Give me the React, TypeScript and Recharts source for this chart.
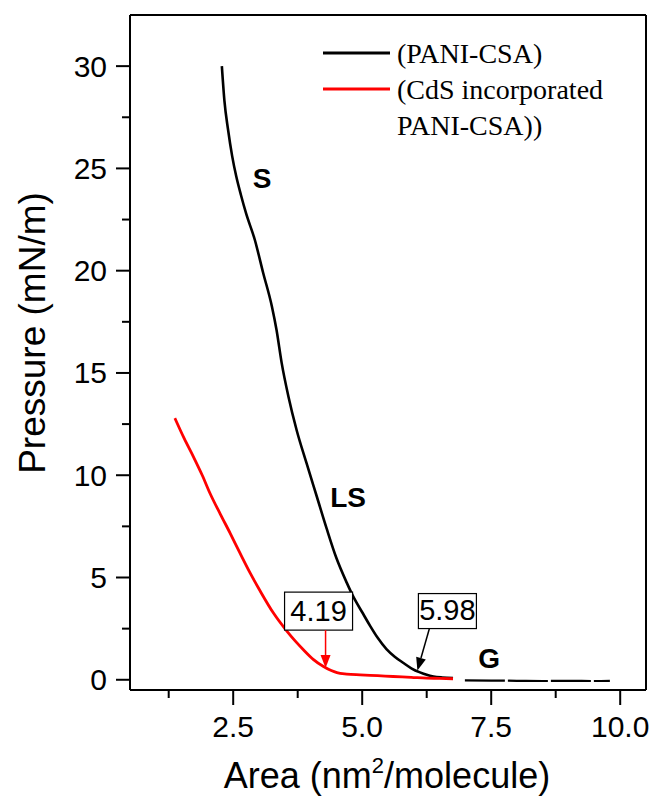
import { CartesianGrid, Customized, Line, LineChart, ReferenceDot, ReferenceLine, XAxis, YAxis } from "recharts"

// PANI-CSA isotherm (compressed phase)
const paniArea = [2.28, 2.33, 2.4, 2.48, 2.56, 2.65, 2.75, 2.92, 3.08, 3.25, 3.34, 3.44, 3.57, 3.73, 3.92, 4.12, 4.31, 4.5, 4.7, 4.83, 5.0, 5.15, 5.3, 5.47, 5.63, 5.8, 5.96, 6.12, 6.25, 6.38, 6.55, 6.76]
const paniPressure = [30, 28.3, 26.9, 25.6, 24.6, 23.7, 22.8, 21.5, 19.9, 18.25, 17.1, 15.48, 13.85, 12.2, 10.6, 8.96, 7.4, 5.95, 4.75, 4.05, 3.3, 2.65, 2.05, 1.5, 1.13, 0.82, 0.55, 0.36, 0.24, 0.16, 0.11, 0.08]

// PANI-CSA gas phase segment
const paniGasArea = [6.99, 7.5, 8.0, 8.5, 9.0, 9.5, 9.8]
const paniGasPressure = [-0.03, -0.04, -0.05, -0.06, -0.05, -0.06, -0.05]

// CdS incorporated PANI-CSA
const cdsArea = [1.37, 1.55, 1.73, 1.9, 2.05, 2.25, 2.44, 2.63, 2.83, 3.02, 3.28, 3.54, 3.7, 3.86, 4.05, 4.25, 4.4, 4.51, 4.7, 4.96, 5.3, 5.6, 5.95, 6.25, 6.5, 6.76]
const cdsPressure = [12.79, 11.8, 10.9, 10.0, 9.12, 8.1, 7.17, 6.2, 5.21, 4.35, 3.26, 2.38, 1.9, 1.47, 1.0, 0.65, 0.45, 0.35, 0.28, 0.24, 0.2, 0.16, 0.12, 0.08, 0.07, 0.05]

const xTicks = [1.25, 2.5, 3.75, 5, 6.25, 7.5, 8.75, 10]
const yTicks = [0, 2.5, 5, 7.5, 10, 12.5, 15, 17.5, 20, 22.5, 25, 27.5, 30]

const phaseLabels = ["S", "LS", "G"]
const phaseX = [2.88, 4.38, 7.25]
const phaseY = [24.05, 8.47, 0.57]

const annotLabels = ["4.19", "5.98"]
const annotX = [4.29, 6.07]
const annotY = [0.57, 0.45]

const seriesNames = ["(PANI-CSA)", "(CdS incorporated", "PANI-CSA))"]

const zip = (xs: number[], ys: number[]) => xs.map((x, i) => ({ x, y: ys[i] }))

const SANS = "'Liberation Sans', Arial, sans-serif"
const SERIF = "'Liberation Serif', 'Times New Roman', serif"

function XTick({ x, y, payload }: any) {
  const v = payload.value as number
  const major = Math.abs(v / 2.5 - Math.round(v / 2.5)) < 1e-6
  return (
    <g>
      <line x1={x} y1={y} x2={x} y2={y + (major ? 15 : 8)} stroke="#000" strokeWidth={2} />
      {major && (
        <text x={x} y={y + 47} textAnchor="middle" fontFamily={SANS} fontSize={30} fill="#000">
          {v.toFixed(1)}
        </text>
      )}
    </g>
  )
}

function YTick({ x, y, payload }: any) {
  const v = payload.value as number
  const major = v % 5 === 0
  return (
    <g>
      <line x1={x - (major ? 14 : 8)} y1={y} x2={x} y2={y} stroke="#000" strokeWidth={2} />
      {major && (
        <text x={x - 23} y={y + 10.5} textAnchor="end" fontFamily={SANS} fontSize={30} fill="#000">
          {v}
        </text>
      )}
    </g>
  )
}

function PhaseText({ cx, cy, text }: any) {
  return (
    <text x={cx} y={cy} fontFamily={SANS} fontWeight="bold" fontSize={28} fill="#000">
      {text}
    </text>
  )
}

// box + arrow; tip at (cx, cy)
function Callout({ cx, cy, text, color, box, tail }: any) {
  const [bx0, by0, bx1, by1] = box
  const [tx, ty] = tail
  const sx = cx + tx
  const sy = cy + ty
  const ang = Math.atan2(cy - sy, cx - sx)
  const len = 13
  const w = 5
  const bx = cx - len * Math.cos(ang)
  const by = cy - len * Math.sin(ang)
  const px = -Math.sin(ang) * w
  const py = Math.cos(ang) * w
  return (
    <g>
      <rect x={cx + bx0} y={cy + by0} width={bx1 - bx0} height={by1 - by0} fill="#fff" stroke="#000" strokeWidth={1.2} />
      <text x={cx + (bx0 + bx1) / 2} y={cy + by1 - 9} textAnchor="middle" fontFamily={SANS} fontSize={29} fill="#000">
        {text}
      </text>
      <line x1={sx} y1={sy} x2={bx} y2={by} stroke={color} strokeWidth={1.5} />
      <polygon points={`${cx},${cy} ${bx + px},${by + py} ${bx - px},${by - py}`} fill={color} />
    </g>
  )
}

function Decorations() {
  return (
    <g>
      <text x={387} y={788} textAnchor="middle" fontFamily={SANS} fontSize={36} fill="#000">
        <tspan>Area (nm</tspan>
        <tspan dy={-15} fontSize={22}>2</tspan>
        <tspan dy={15}>/molecule)</tspan>
      </text>
      <text x={45} y={333} transform="rotate(-90 45 333)" textAnchor="middle" fontFamily={SANS} fontSize={37} fill="#000">
        Pressure (mN/m)
      </text>
      <line x1={323} y1={53} x2={390} y2={53} stroke="#000" strokeWidth={3} />
      <line x1={323} y1={89} x2={390} y2={89} stroke="#ff0000" strokeWidth={3} />
      {seriesNames.map((s, i) => (
        <text key={s} x={397} y={63 + i * 36} fontFamily={SERIF} fontSize={28} fill="#000">
          {s}
        </text>
      ))}
    </g>
  )
}

export default function App() {
  const pani = zip(paniArea, paniPressure)
  const paniGas = zip(paniGasArea, paniGasPressure)
  const cds = zip(cdsArea, cdsPressure)

  return (
    <div style={{ position: "absolute", left: 0, top: 0, background: "#fff" }}>
      <LineChart width={650} height={800} margin={{ top: 15, right: 4, bottom: 0, left: 60 }}>
        <CartesianGrid stroke="none" />
        <XAxis
          dataKey="x"
          type="number"
          domain={[0.5, 10.5]}
          ticks={xTicks}
          interval={0}
          height={110}
          tickSize={0}
          tickMargin={0}
          tickLine={false}
          axisLine={{ stroke: "#000", strokeWidth: 2 }}
          tick={<XTick />}
          allowDataOverflow
        />
        <YAxis
          dataKey="y"
          type="number"
          domain={[-0.5, 32.5]}
          ticks={yTicks}
          interval={0}
          width={70}
          tickSize={0}
          tickMargin={0}
          tickLine={false}
          axisLine={{ stroke: "#000", strokeWidth: 2 }}
          tick={<YTick />}
          allowDataOverflow
        />
        <ReferenceLine y={32.5} stroke="#000" strokeWidth={2} />
        <ReferenceLine x={10.5} stroke="#000" strokeWidth={2} />
        <Line type="monotone" data={pani} dataKey="y" stroke="#000" strokeWidth={2.6} dot={false} isAnimationActive={false} />
        <Line type="monotone" data={paniGas} dataKey="y" stroke="#000" strokeWidth={2.2} strokeDasharray="40 3" dot={false} isAnimationActive={false} />
        <Line type="monotone" data={cds} dataKey="y" stroke="#ff0000" strokeWidth={2.8} dot={false} isAnimationActive={false} />
        {phaseLabels.map((t, i) => (
          <ReferenceDot key={t} x={phaseX[i]} y={phaseY[i]} r={0} shape={(p: any) => <PhaseText {...p} text={t} />} />
        ))}
        <ReferenceDot
          x={annotX[0]}
          y={annotY[0]}
          shape={(p: any) => <Callout {...p} text={annotLabels[0]} color="#ff0000" box={[-41, -76, 27, -38]} tail={[0, -38]} />}
        />
        <ReferenceDot
          x={annotX[1]}
          y={annotY[1]}
          shape={(p: any) => <Callout {...p} text={annotLabels[1]} color="#000" box={[1, -77, 59, -42]} tail={[12, -42]} />}
        />
        <Customized component={<Decorations />} />
      </LineChart>
    </div>
  )
}
